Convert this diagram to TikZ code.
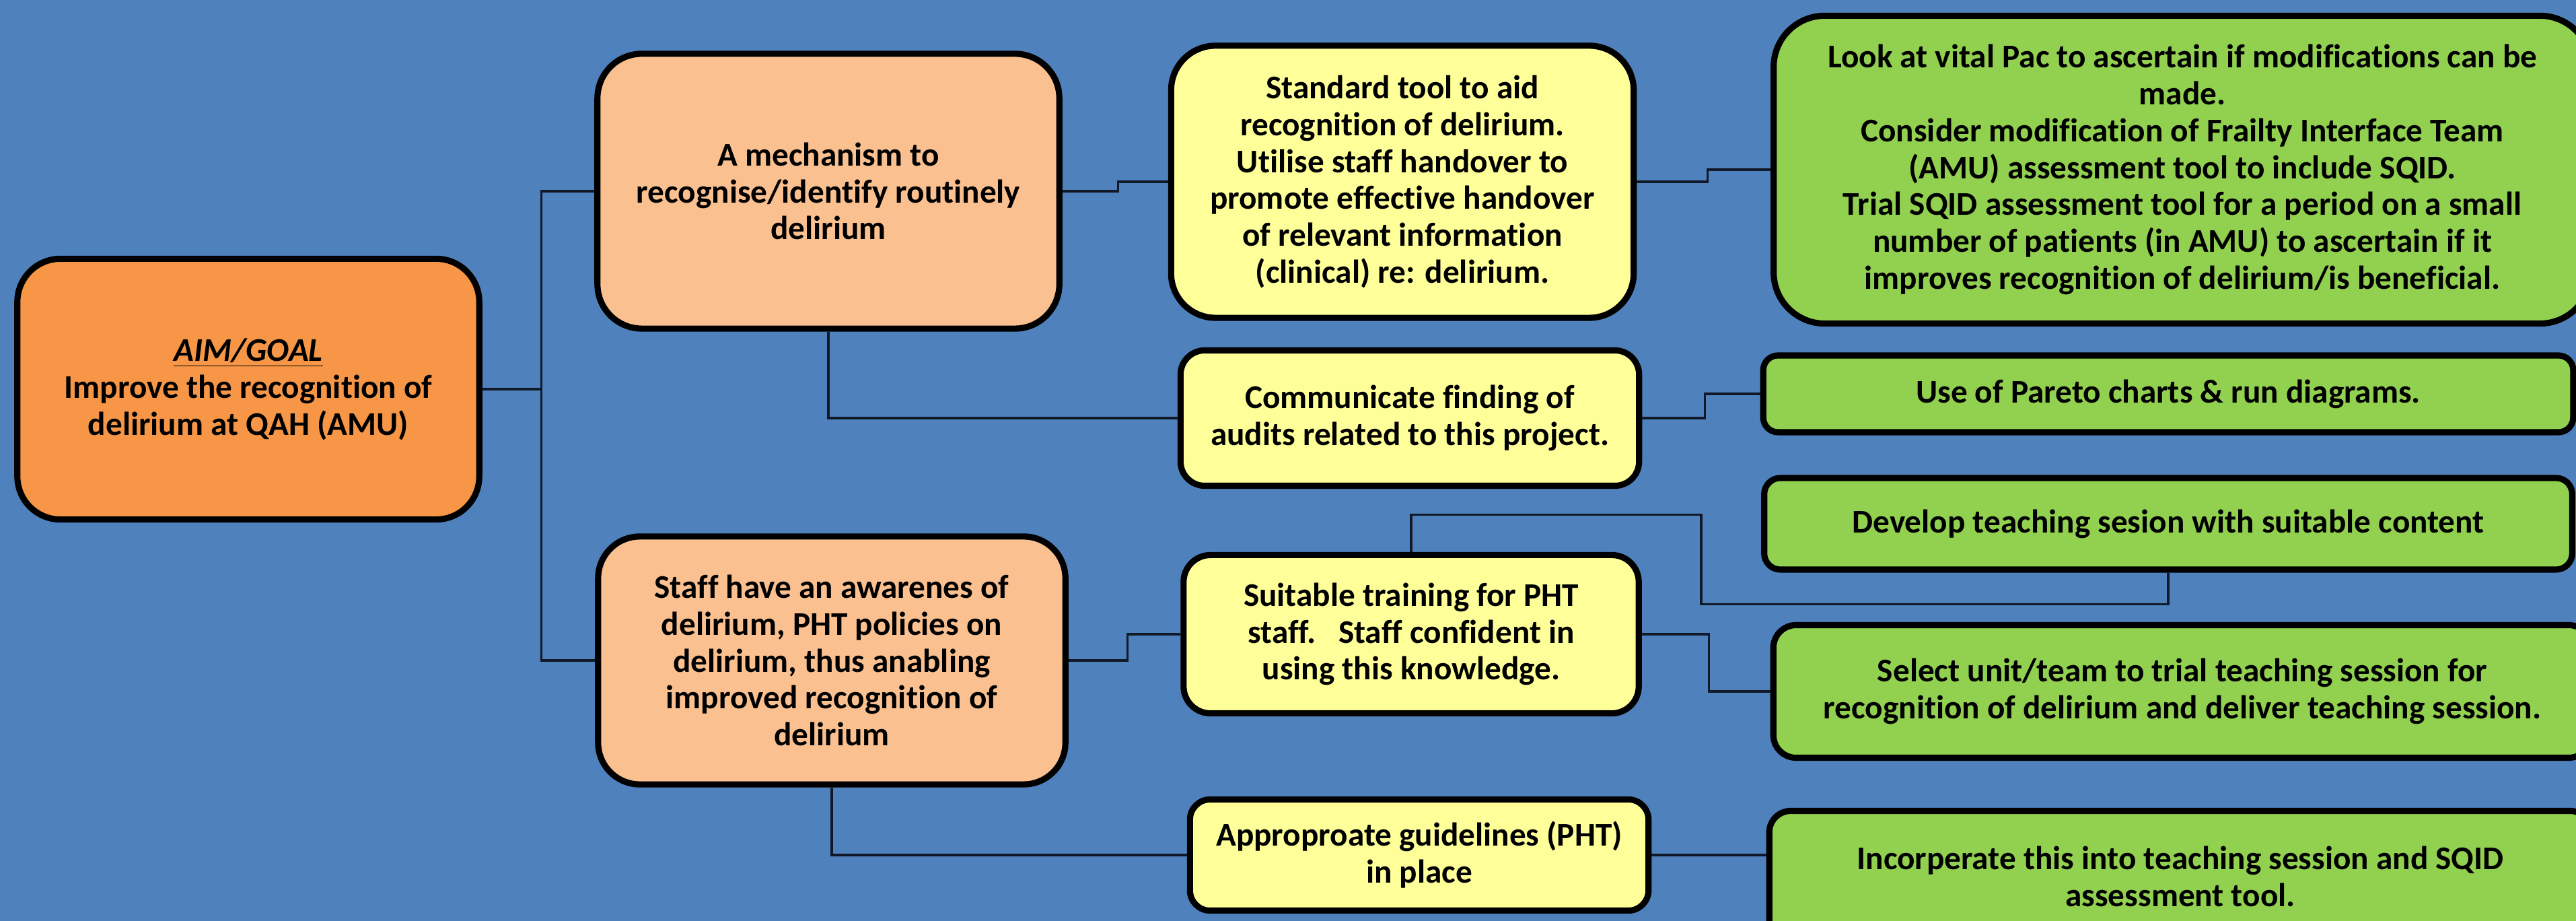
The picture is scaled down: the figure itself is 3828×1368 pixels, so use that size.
\documentclass[tikz,border=0pt]{standalone}
\usepackage{fontspec}
\setmainfont{Carlito}[Ligatures=NoCommon]
\definecolor{bgblue}{HTML}{4F81BD}
\definecolor{aimorange}{HTML}{F79646}
\definecolor{causeorange}{HTML}{FAC090}
\definecolor{actionyellow}{HTML}{FFFF99}
\definecolor{taskgreen}{HTML}{92D050}
\definecolor{linedark}{HTML}{111827}
\tikzset{box/.style={draw=black, line width=2.6pt, align=center, inner sep=0pt,
  font=\fontsize{14}{15.6}\selectfont\bfseries}}
\tikzset{aimbox/.style={box, fill=aimorange},
  causebox/.style={box, fill=causeorange},
  actionbox/.style={box, fill=actionyellow},
  taskbox/.style={box, fill=taskgreen}}
\tikzset{link/.style={draw=linedark, line width=0.9pt}}
\tikzset{dims/.style n args={3}{minimum width=#1cm, minimum height=#2cm, rounded corners=#3cm}}

\begin{document}
\begin{tikzpicture}[x=0.01cm, y=-0.01cm]
      \fill [bgblue] (0, 0) rectangle (3828, 1368);
      \useasboundingbox (0, 0) rectangle (3828, 1368);
      \clip (0, 0) rectangle (3828, 1368);

      % aim and primary drivers
      \node [aimbox, dims={6.86}{3.87}{0.64}] (aim) at (369, 578) {\underline{\textit{AIM/GOAL}}\\Improve the recognition of\\delirium at QAH (AMU)};
      \node [causebox, dims={6.86}{4.08}{0.66}] (mech) at (1231, 284) {A mechanism to\\recognise/identify routinely\\delirium};
      \node [causebox, dims={6.94}{3.68}{0.62}] (staff) at (1236, 981) {Staff have an awarenes of\\delirium, PHT policies on\\delirium, thus anabling\\improved recognition of\\delirium};

      % secondary drivers
      \node [actionbox, dims={6.87}{4.04}{0.66}] (std) at (2084, 270) {Standard tool to aid\\recognition of delirium.\\Utilise staff handover to\\promote effective handover\\of relevant information\\(clinical) re: delirium.};
      \node [actionbox, dims={6.81}{2.01}{0.36}] (comm) at (2095, 621) {Communicate finding of\\audits related to this project.};
      \node [actionbox, dims={6.76}{2.35}{0.40}] (suit) at (2097, 942) {Suitable training for PHT\\staff.\ \ \ Staff confident in\\using this knowledge.};
      \node [actionbox, dims={6.81}{1.65}{0.30}] (appr) at (2109, 1270) {Approproate guidelines (PHT)\\in place};

      % change ideas
      \node [taskbox, dims={12.14}{4.57}{0.76}] (look) at (3243, 252) {Look at vital Pac to ascertain if modifications can be\\made.\\Consider modification of Frailty Interface Team\\(AMU) assessment tool to include SQID.\\Trial SQID assessment tool for a period on a small\\number of patients (in AMU) to ascertain if it\\improves recognition of delirium/is beneficial.};
      \node [taskbox, dims={12.03}{1.14}{0.22}] (pareto) at (3222, 585) {Use of Pareto charts \& run diagrams.};
      \node [taskbox, dims={12.00}{1.36}{0.24}] (dev) at (3222, 778) {Develop teaching sesion with suitable content};
      \node [taskbox, dims={12.15}{1.97}{0.34}] (sel) at (3243, 1027) {Select unit/team to trial teaching session for\\recognition of delirium and deliver teaching session.};
      \node [taskbox, dims={12.21}{1.95}{0.32}] (incorp) at (3240, 1302) {Incorperate this into teaching session and SQID\\assessment tool.};

      \draw [link] (aim.east) -- ++(88, 0) coordinate (trunk);
      \draw [link] (mech.west) -| (trunk) |- (staff.west);
      \draw [link] (mech.east) -- ++(83, 0) |- (std.west);
      \draw [link] (mech.south) |- (comm.west);
      \draw [link] (staff.east) -- ++(88, 0) |- (suit.west);
      \draw [link] (staff.south) |- (appr.west);
      \draw [link] (std.east) -- ++(105, 0) |- (look.west);
      \draw [link] (comm.east) -- ++(93, 0) |- (pareto.west);
      \draw [link] (suit.east) -- ++(100, 0) |- (sel.west);
      \draw [link] (suit.north) -- ++(0, -55) -- ++(431, 0) -- ++(0, 133) -| (dev.south);
      \draw [link] (appr.east) -- (appr.east -| incorp.west);
    \end{tikzpicture}
\end{document}
